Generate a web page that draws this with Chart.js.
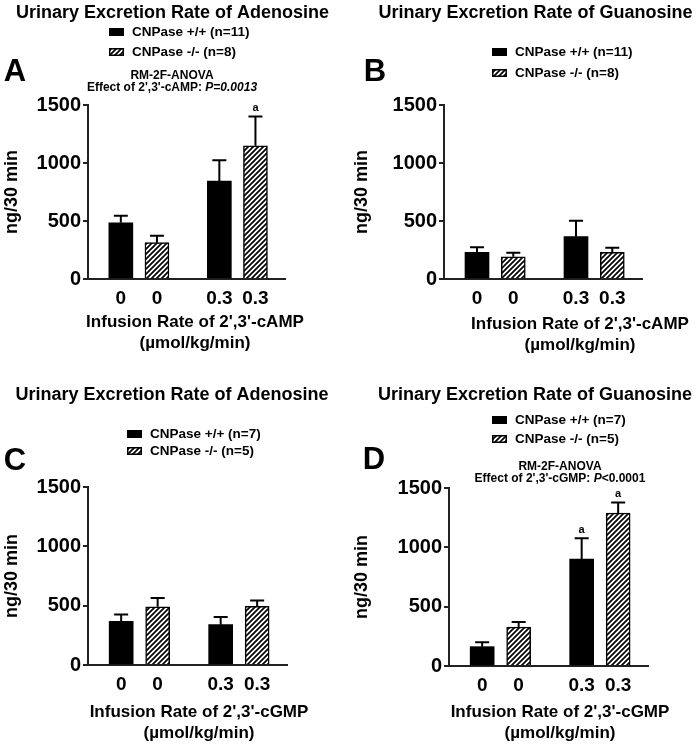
<!DOCTYPE html>
<html>
<head>
<meta charset="utf-8">
<script src="https://cdn.jsdelivr.net/npm/chart.js@4.4.1/dist/chart.umd.min.js"></script>
<style>
  body { margin: 0; background: #fff; }
  #wrap { position: relative; width: 700px; height: 744px; }
  #wrap canvas { position: absolute; }
</style>
</head>
<body>
<div id="wrap">
  <canvas id="cA" width="350" height="372" style="left:0;top:0"></canvas>
  <canvas id="cB" width="350" height="372" style="left:350px;top:0"></canvas>
  <canvas id="cC" width="350" height="372" style="left:0;top:372px"></canvas>
  <canvas id="cD" width="350" height="372" style="left:350px;top:372px"></canvas>
</div>
<script>
// tick labels
const doseLabels = ['0', '0', '0.3', '0.3'];
const yTicks = [0, 500, 1000, 1500];

// A - adenosine, 2',3'-cAMP infusion (mean and SEM, ng/30 min)
const aWt = [485, 845];
const aWtSem = [61, 178];
const aKo = [313, 1149];
const aKoSem = [60, 251];

// B - guanosine, 2',3'-cAMP infusion
const bWt = [230, 365];
const bWtSem = [43, 138];
const bKo = [192, 230];
const bKoSem = [35, 40];

// C - adenosine, 2',3'-cGMP infusion
const cWt = [367, 340];
const cWtSem = [59, 64];
const cKo = [491, 494];
const cKoSem = [73, 50];

// D - guanosine, 2',3'-cGMP infusion
const dWt = [163, 900];
const dWtSem = [37, 177];
const dKo = [327, 1289];
const dKoSem = [44, 89];

// significance marks
const aKoSig = ['', 'a'];
const dWtSig = ['', 'a'];
const dKoSig = ['', 'a'];

const FONT = "'Liberation Sans', Arial, sans-serif";
Chart.defaults.font.family = FONT;
Chart.defaults.color = '#000';

// slot positions on the x axis (0..6)
const SLOT_WT = [1, 4];
const SLOT_KO = [2.1, 5.1];
const SLOTS = [1, 2.1, 4, 5.1];

function makeHatch(ctx) {
  const c = document.createElement('canvas');
  c.width = 5; c.height = 5;
  const g = c.getContext('2d');
  g.fillStyle = '#fff';
  g.fillRect(0, 0, 5, 5);
  g.strokeStyle = '#000';
  g.lineWidth = 1.7;
  g.beginPath();
  g.moveTo(-1, 6); g.lineTo(6, -1);
  g.moveTo(-1, 1); g.lineTo(1, -1);
  g.moveTo(4, 6); g.lineTo(6, 4);
  g.stroke();
  return ctx.createPattern(c, 'repeat');
}

// error bars + "a" marks, positioned through the y scale
const errorBars = {
  id: 'errorBars',
  afterDatasetsDraw(chart) {
    const ctx = chart.ctx;
    const ys = chart.scales.y;
    ctx.save();
    ctx.strokeStyle = '#000';
    ctx.lineWidth = 2;
    chart.data.datasets.forEach((ds, di) => {
      const meta = chart.getDatasetMeta(di);
      meta.data.forEach((bar, i) => {
        const top = ys.getPixelForValue(ds.data[i].y + ds.sem[i]);
        ctx.beginPath();
        ctx.moveTo(bar.x, bar.y);
        ctx.lineTo(bar.x, top);
        ctx.moveTo(bar.x - 7, top);
        ctx.lineTo(bar.x + 7, top);
        ctx.stroke();
        if (ds.sig && ds.sig[i]) {
          ctx.fillStyle = '#000';
          ctx.font = 'bold 11px ' + FONT;
          ctx.textAlign = 'center';
          ctx.textBaseline = 'bottom';
          ctx.fillText(ds.sig[i], bar.x, top - 3);
        }
      });
    });
    ctx.restore();
  }
};

// titles, legend, letters, x title
function overlay(p) {
  return {
    id: 'overlay',
    afterDraw(chart) {
      const ctx = chart.ctx;
      ctx.save();
      ctx.fillStyle = '#000';
      ctx.textBaseline = 'middle';

      ctx.textAlign = 'center';
      ctx.font = 'bold 18px ' + FONT;
      ctx.fillText(p.title, p.titleX, p.titleY);

      ctx.font = 'bold 31px ' + FONT;
      ctx.fillText(p.letter, p.letterX, p.letterY);

      ctx.font = 'bold 17px ' + FONT;
      ctx.fillText(p.xTitle, p.xTitleX, p.xTitleY);
      ctx.fillText('(\u00b5mol/kg/min)', p.xTitleX, p.xTitleY + 21);

      if (p.anova) {
        const f = 'bold 12px ' + FONT, fi = 'italic bold 12px ' + FONT;
        ctx.font = f;
        ctx.fillText('RM-2F-ANOVA', p.anovaX, p.anovaY);
        const a = p.anova[0], b = p.anova[1];
        const wa = ctx.measureText(a).width;
        const wb = ctx.measureText(b).width;
        ctx.font = fi;
        const wp = ctx.measureText('P').width;
        const x = p.anovaX - (wa + wp + wb) / 2;
        ctx.textAlign = 'left';
        ctx.font = f;
        ctx.fillText(a, x, p.anovaY + 12);
        ctx.font = fi;
        ctx.fillText('P', x + wa, p.anovaY + 12);
        ctx.font = p.anovaItalic ? fi : f;
        ctx.fillText(b, x + wa + wp, p.anovaY + 12);
      }

      // legend
      ctx.textAlign = 'left';
      ctx.font = 'bold 13.5px ' + FONT;
      const ds = chart.data.datasets;
      p.legendY.forEach((ly, i) => {
        ctx.fillStyle = ds[i].backgroundColor;
        ctx.fillRect(p.legendX, ly - 4, 15, 8);
        if (i === 1) {
          ctx.strokeStyle = '#000';
          ctx.lineWidth = 1.5;
          ctx.strokeRect(p.legendX + 0.75, ly - 3.25, 13.5, 6.5);
        }
        ctx.fillStyle = '#000';
        ctx.fillText(ds[i].label, p.legendX + 23, ly);
      });
      ctx.restore();
    }
  };
}

function panel(id, p) {
  const ctx = document.getElementById(id).getContext('2d');
  const hatch = makeHatch(ctx);
  return new Chart(ctx, {
    type: 'bar',
    data: {
      datasets: [
        {
          label: p.legend[0],
          data: p.wt.map((v, i) => ({ x: SLOT_WT[i], y: v })),
          sem: p.wtSem,
          sig: p.wtSig,
          backgroundColor: '#000',
          borderWidth: 0
        },
        {
          label: p.legend[1],
          data: p.ko.map((v, i) => ({ x: SLOT_KO[i], y: v })),
          sem: p.koSem,
          sig: p.koSig,
          backgroundColor: hatch,
          borderColor: '#000',
          borderWidth: 1.5
        }
      ]
    },
    options: {
      responsive: false,
      animation: false,
      layout: { padding: { left: 0, top: p.top, right: 350 - p.right, bottom: 0 } },
      datasets: { bar: { grouped: false, barThickness: 24 } },
      plugins: { legend: { display: false }, tooltip: { enabled: false } },
      scales: {
        x: {
          type: 'linear',
          offset: false,
          min: 0,
          max: 6,
          afterFit: s => { s.height = 372 - p.bottom; },
          afterBuildTicks: s => { s.ticks = SLOTS.map(v => ({ value: v })); },
          ticks: {
            autoSkip: false,
            maxRotation: 0,
            padding: 8,
            color: '#000',
            font: { size: 19, weight: 'bold' },
            callback: (v, i) => doseLabels[i]
          },
          grid: { drawOnChartArea: false, drawTicks: false },
          border: { color: '#222', width: 2 }
        },
        y: {
          min: 0,
          max: 1500,
          afterFit: s => { s.width = p.left; },
          afterBuildTicks: s => { s.ticks = yTicks.map(v => ({ value: v })); },
          ticks: {
            padding: 2,
            color: '#000',
            font: { size: 20, weight: 'bold' },
            callback: v => String(v)
          },
          grid: { drawOnChartArea: false, tickLength: 5, color: '#222', lineWidth: 2 },
          border: { color: '#222', width: 2 },
          title: {
            display: true,
            text: 'ng/30 min',
            color: '#000',
            font: { size: 18, weight: 'bold' },
            padding: { top: 1, bottom: 0 }
          }
        }
      }
    },
    plugins: [errorBars, overlay(p)]
  });
}

panel('cA', {
  wt: aWt, wtSem: aWtSem, ko: aKo, koSem: aKoSem, koSig: aKoSig,
  legend: ['CNPase +/+ (n=11)', 'CNPase -/- (n=8)'],
  title: 'Urinary Excretion Rate of Adenosine', titleX: 172.5, titleY: 13,
  letter: 'A', letterX: 15, letterY: 72,
  xTitle: "Infusion Rate of 2',3'-cAMP", xTitleX: 195, xTitleY: 322,
  anova: ["Effect of 2',3'-cAMP: ", '=0.0013'], anovaItalic: true, anovaX: 172, anovaY: 76,
  legendX: 109, legendY: [32, 52],
  left: 88, right: 285, top: 105, bottom: 279
});

panel('cB', {
  wt: bWt, wtSem: bWtSem, ko: bKo, koSem: bKoSem,
  legend: ['CNPase +/+ (n=11)', 'CNPase -/- (n=8)'],
  title: 'Urinary Excretion Rate of Guanosine', titleX: 185.5, titleY: 13,
  letter: 'B', letterX: 25, letterY: 72,
  xTitle: "Infusion Rate of 2',3'-cAMP", xTitleX: 230, xTitleY: 324,
  legendX: 142, legendY: [52, 73],
  left: 94, right: 292, top: 105, bottom: 279
});

panel('cC', {
  wt: cWt, wtSem: cWtSem, ko: cKo, koSem: cKoSem,
  legend: ['CNPase +/+ (n=7)', 'CNPase -/- (n=5)'],
  title: 'Urinary Excretion Rate of Adenosine', titleX: 172, titleY: 23,
  letter: 'C', letterX: 15, letterY: 89,
  xTitle: "Infusion Rate of 2',3'-cGMP", xTitleX: 199, xTitleY: 340,
  legendX: 127, legendY: [62, 79],
  left: 88, right: 287, top: 115, bottom: 293
});

panel('cD', {
  wt: dWt, wtSem: dWtSem, ko: dKo, koSem: dKoSem, wtSig: dWtSig, koSig: dKoSig,
  legend: ['CNPase +/+ (n=7)', 'CNPase -/- (n=5)'],
  title: 'Urinary Excretion Rate of Guanosine', titleX: 185, titleY: 23,
  letter: 'D', letterX: 24, letterY: 88,
  xTitle: "Infusion Rate of 2',3'-cGMP", xTitleX: 210, xTitleY: 340,
  anova: ["Effect of 2',3'-cGMP: ", '<0.0001'], anovaItalic: false, anovaX: 210, anovaY: 95,
  legendX: 142, legendY: [48, 67],
  left: 99, right: 298, top: 116, bottom: 294
});
</script>
</body>
</html>
